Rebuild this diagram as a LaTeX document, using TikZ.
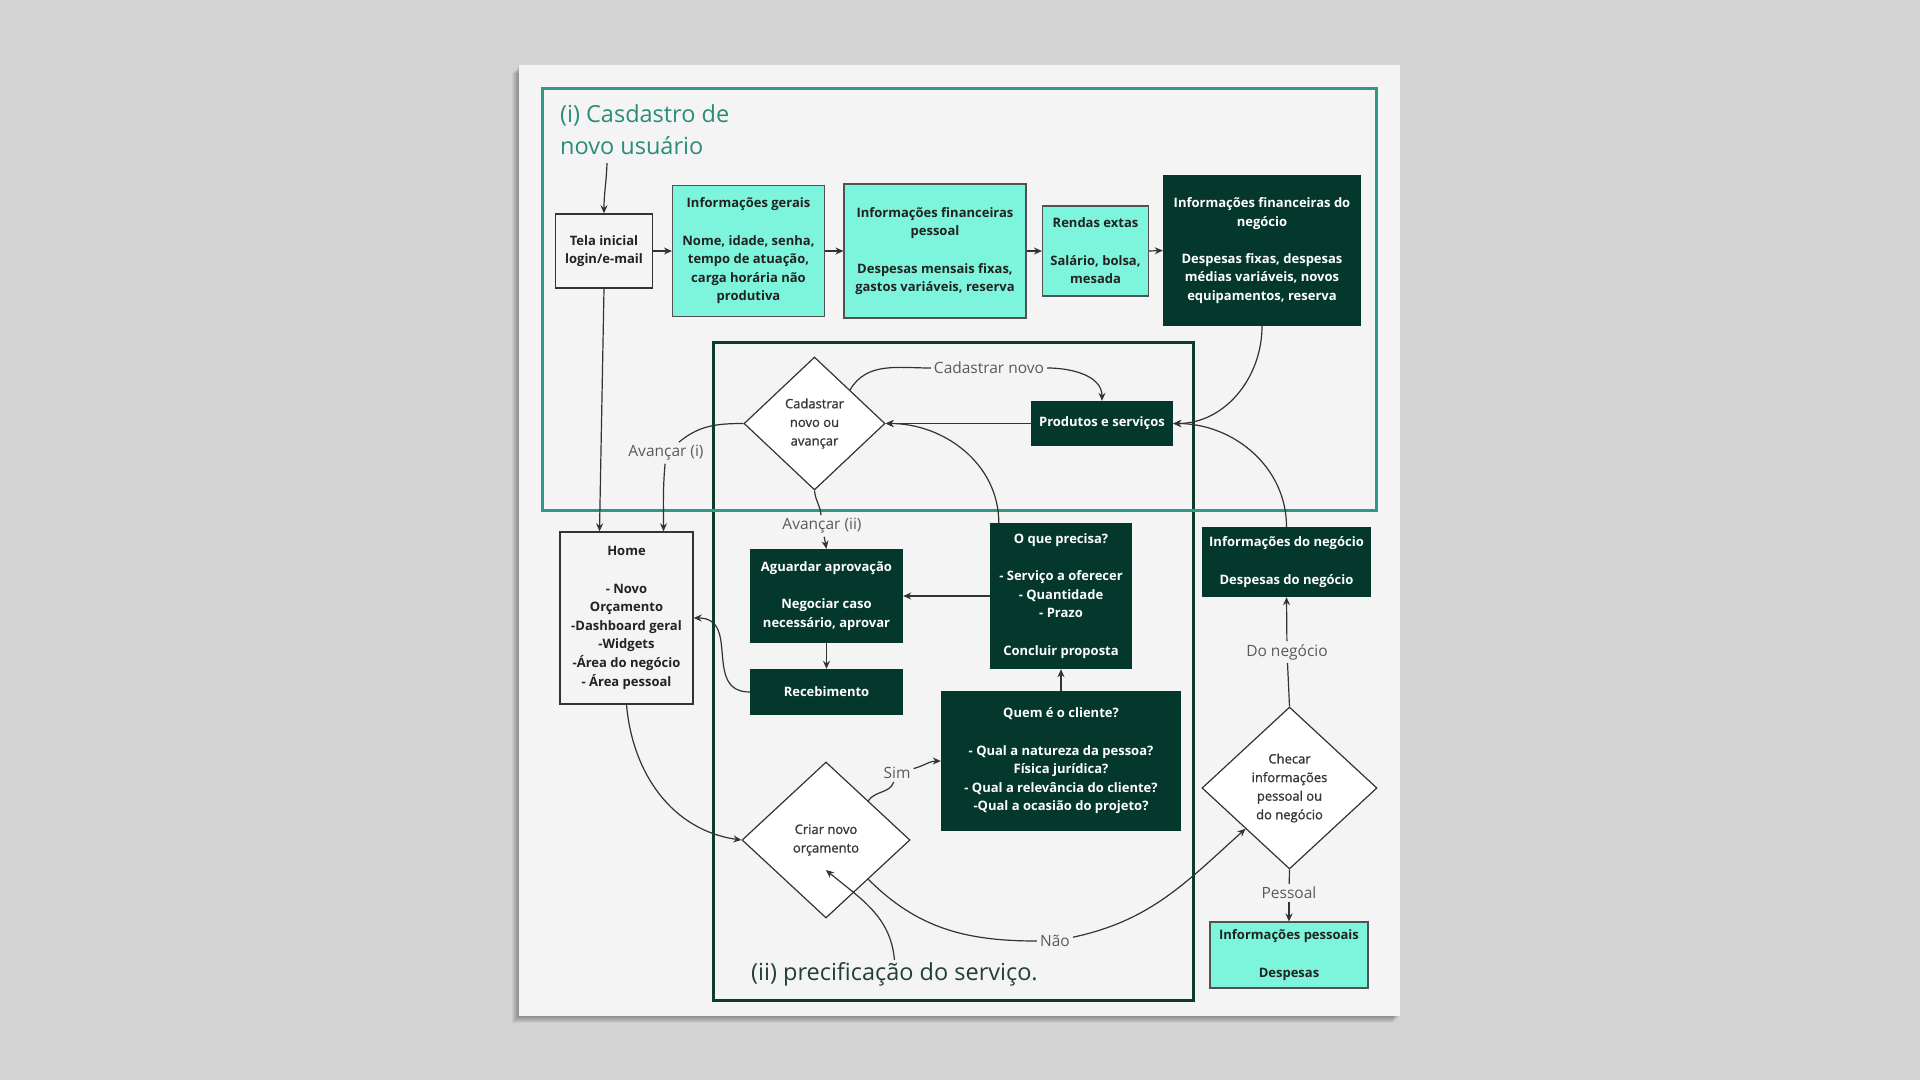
\documentclass[tikz,border=0pt]{standalone}
\usepackage{fontspec}
\setmainfont{Open Sans}
\newfontfamily\diafont[FakeBold=1.2]{Open Sans}
\usetikzlibrary{shapes.geometric,arrows.meta,calc}
\definecolor{bgc}{HTML}{D4D4D4}
\definecolor{paperc}{HTML}{F4F4F4}
\definecolor{tealf}{HTML}{2E9A85}
\definecolor{darkf}{HTML}{0C3B30}
\definecolor{dkfill}{HTML}{05382D}
\definecolor{ltfill}{HTML}{7DF5DD}
\definecolor{linec}{HTML}{333333}
\definecolor{lblc}{HTML}{5A5A5A}
\definecolor{txtd}{HTML}{222222}
\definecolor{iic}{HTML}{1F3F38}
\definecolor{titlec}{HTML}{2B8C78}
\begin{document}
\begin{tikzpicture}[x=1pt,y=-1pt,
  boxbase/.style={rectangle, inner sep=0pt, align=center, font=\bfseries\fontsize{13}{18.6}\selectfont},
  plainbox/.style={boxbase, draw=linec, line width=1.4pt, fill=paperc, text=txtd},
  tealbox/.style={boxbase, draw=linec!85, line width=1.1pt, fill=ltfill, text=txtd},
  darkbox/.style={boxbase, fill=dkfill, text=white},
  decision/.style={diamond, draw=linec, line width=1.2pt, fill=white, inner sep=0pt, align=center, text=txtd!90!white, font=\diafont\fontsize{13}{18.6}\selectfont},
  lbl/.style={inner sep=3pt, text=lblc, font=\fontsize{15.5}{19}\selectfont},
  conn/.style={draw=linec, line width=1.2pt, -{Stealth[length=8pt,width=7pt]}},
  plainline/.style={draw=linec, line width=1.2pt},
]
% background and paper
\useasboundingbox (0,0) rectangle (1920,1080);
\fill[bgc] (0,0) rectangle (1920,1080);
\foreach \i in {1,...,7}{
  \fill[black,opacity=0.05] (519-1.0*\i,65+1.2*\i) rectangle (1400-1.0*\i,1016+1.0*\i);
}
\fill[paperc] (519,65) rectangle (1400,1016);

% frames
\draw[darkf, line width=3pt] (713,342) rectangle (1193,1000);
\draw[tealf, line width=3pt] (542,88) rectangle (1376,510);

% titles
\node[anchor=north west, inner sep=0pt, align=left, text=titlec, font=\fontsize{23.5}{32}\selectfont] (title) at (560,104) {(i) Casdastro de\\novo usuário};
\node[anchor=base west, inner sep=2pt, text=iic, font=\fontsize{23.5}{32}\selectfont] (lii) at (749,980) {(ii) precificação do serviço.};

% top row
\node[plainbox, minimum width=97pt, minimum height=74pt] (tela) at (604,251) {Tela inicial\\login/e-mail};
\node[tealbox, minimum width=152pt, minimum height=131pt] (gerais) at (748.5,251) {Informações gerais\\[18.6pt]Nome, idade, senha,\\tempo de atuação,\\carga horária não\\produtiva};
\node[tealbox, minimum width=182pt, minimum height=134pt] (finp) at (935,251) {Informações financeiras\\pessoal\\[18.6pt]Despesas mensais fixas,\\gastos variáveis, reserva};
\node[tealbox, minimum width=106pt, minimum height=90pt] (rendas) at (1095.5,251) {Rendas extas\\[18.6pt]Salário, bolsa,\\mesada};
\node[darkbox, minimum width=198pt, minimum height=151pt] (finn) at (1262,250.5) {Informações financeiras do\\negócio\\[18.6pt]Despesas fixas, despesas\\médias variáveis, novos\\equipamentos, reserva};

% middle
\node[darkbox, minimum width=142pt, minimum height=45pt] (prod) at (1102,423.5) {Produtos e serviços};
\node[decision, minimum width=141pt, minimum height=133pt] (cad) at (814.5,423.5) {Cadastrar\\novo ou\\avançar};
\node[plainbox, minimum width=133pt, minimum height=172pt] (home) at (626.5,618) {Home\\[18.6pt]- Novo\\Orçamento\\-Dashboard geral\\-Widgets\\-Área do negócio\\- Área pessoal};
\node[darkbox, minimum width=153pt, minimum height=94pt] (agu) at (826.5,596) {Aguardar aprovação\\[18.6pt]Negociar caso\\necessário, aprovar};
\node[darkbox, minimum width=153pt, minimum height=46pt] (rec) at (826.5,692) {Recebimento};
\node[darkbox, minimum width=142pt, minimum height=146pt] (oque) at (1061,596) {O que precisa?\\[18.6pt]- Serviço a oferecer\\- Quantidade\\- Prazo\\[18.6pt]Concluir proposta};
\node[darkbox, minimum width=240pt, minimum height=140pt] (quem) at (1061,761) {Quem é o cliente?\\[18.6pt]- Qual a natureza da pessoa?\\Física jurídica?\\- Qual a relevância do cliente?\\-Qual a ocasião do projeto?};
\node[decision, minimum width=168pt, minimum height=156pt] (criar) at (826,840) {Criar novo\\orçamento};
\node[darkbox, minimum width=169pt, minimum height=70pt] (infon) at (1286.5,562) {Informações do negócio\\[18.6pt]Despesas do negócio};
\node[decision, minimum width=175pt, minimum height=162pt] (checar) at (1289.5,788) {Checar\\informações\\pessoal ou\\do negócio};
\node[tealbox, minimum width=158pt, minimum height=66pt] (infop) at (1289,955) {Informações pessoais\\[18.6pt]Despesas};

% labels
\node[lbl] (lav1) at (666,453) {Avançar (i)};
\node[lbl] (lcn) at (989,368) {Cadastrar novo};
\node[lbl] (lav2) at (822,526) {Avançar (ii)};
\node[lbl] (lsim) at (897,773) {Sim};
\node[lbl] (lnao) at (1055,941) {Não};
\node[lbl] (ldo) at (1287,652) {Do negócio};
\node[lbl] (lpes) at (1289,893) {Pessoal};
\coordinate (start) at (607,163);

% connectors
\draw[conn] (start) to[out=-92,in=90] (tela.north);
\draw[conn] (tela.east) -- (gerais.west);
\draw[conn] (gerais.east) -- (finp.west);
\draw[conn] (finp.east) -- (rendas.west);
\draw[conn] (rendas.east) -- (finn.west);
\draw[conn] (finn.south) to[out=-90,in=0] (prod.east);
\draw[conn] (infon.north) to[out=90,in=0] (prod.east);
\draw[conn] (tela.south) -- ($(home.north)+(-27,0)$);
\draw[plainline] (cad.west) to[out=180,in=40] (lav1);
\draw[conn] (lav1) to[out=-95,in=90] ($(home.north)+(37,0)$);
\draw[plainline] (cad.north east) to[out=60,in=180] (lcn);
\draw[conn] (lcn) to[out=0,in=90] (prod.north);
\draw[conn] (prod.west) -- (cad.east);
\draw[plainline] (cad.south) to[out=-85,in=95] (lav2);
\draw[conn] (lav2) -- (agu.north);
\draw[conn] ($(oque.north west)+(9,0)$) to[out=90,in=0] (cad.east);
\draw[conn] (oque.west) -- (agu.east);
\draw[conn] (agu.south) -- (rec.north);
\draw[conn] (rec.west) to[out=180,in=0,looseness=1.3] (home.east);
\draw[conn] (home.south) to[out=-85,in=172] (criar.west);
\draw[plainline] (criar.north east) to[out=55,in=-110] (lsim);
\draw[conn] (lsim) to[out=15,in=180] (quem.west);
\draw[conn] (quem.north) -- (oque.south);
\draw[plainline] (criar.south east) to[out=-45,in=180] (lnao);
\draw[conn] (lnao) to[out=12,in=-138] (checar.south west);
\draw[conn] (lii.north) to[out=95,in=-40] ($(criar.center)+(0,30)$);
\draw[plainline] (checar.north) -- (ldo);
\draw[conn] (ldo) -- (infon.south);
\draw[plainline] (checar.south) -- (lpes);
\draw[conn] (lpes) -- (infop.north);
\end{tikzpicture}
\end{document}
